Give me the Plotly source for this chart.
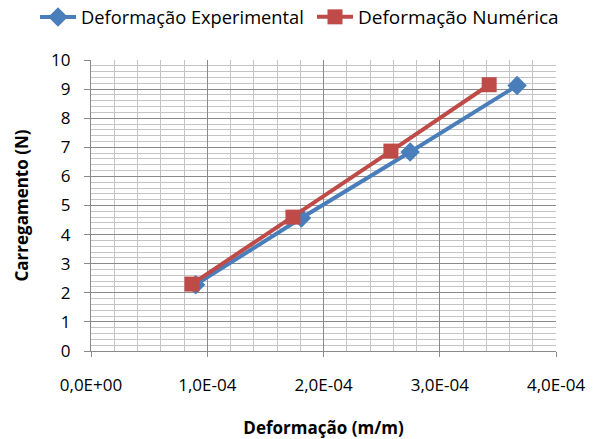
import plotly.graph_objects as go

# Data
x_experimental = [0.90e-4, 1.81e-4, 2.745e-4, 3.665e-4]
y_experimental = [2.28, 4.57, 6.84, 9.12]
x_numerica = [0.868e-4, 1.737e-4, 2.58e-4, 3.425e-4]
y_numerica = [2.30, 4.60, 6.87, 9.15]

series_names = ["Deformação Experimental", "Deformação Numérica"]
x_tick_values = [0, 1e-4, 2e-4, 3e-4, 4e-4]
x_tick_labels = ["0,0E+00", "1,0E-04", "2,0E-04", "3,0E-04", "4,0E-04"]
y_tick_values = list(range(0, 11))

FONT = "Open Sans"
MAJOR = "#8a8a8a"
MINOR = "#c4c4c4"

fig = go.Figure()
fig.add_trace(go.Scatter(
    x=x_experimental, y=y_experimental, name=series_names[0],
    mode="lines+markers", legend="legend",
    line=dict(color="#4a7ebb", width=4),
    marker=dict(symbol="diamond", size=15, color="#4a7ebb"),
))
fig.add_trace(go.Scatter(
    x=x_numerica, y=y_numerica, name=series_names[1],
    mode="lines+markers", legend="legend2",
    line=dict(color="#be4b48", width=4),
    marker=dict(symbol="square", size=15, color="#be4b48"),
))

legend_common = dict(orientation="h", xref="container", yref="container",
                     xanchor="left", yanchor="middle", y=1 - 17 / 439,
                     itemwidth=36, bgcolor="rgba(0,0,0,0)")

fig.update_layout(
    width=596, height=439,
    margin=dict(l=91, r=40, t=60, b=88, autoexpand=False),
    paper_bgcolor="white", plot_bgcolor="white",
    font=dict(family=FONT, size=17, color="#000000"),
    showlegend=True,
    legend=dict(legend_common, x=35 / 596, font=dict(size=18.3, family=FONT)),
    legend2=dict(legend_common, x=312 / 596, font=dict(size=19, family=FONT)),
)

fig.update_xaxes(
    range=[0, 4e-4], tickvals=x_tick_values, ticktext=x_tick_labels,
    showgrid=True, gridcolor=MAJOR, gridwidth=1.3,
    minor=dict(dtick=2e-5, showgrid=True, gridcolor=MINOR, gridwidth=1.3, ticklen=0),
    showline=True, linecolor=MAJOR, linewidth=1.3,
    ticks="outside", ticklen=5, tickcolor=MAJOR, tickwidth=1.3,
    ticklabelstandoff=13, zeroline=False, automargin=False,
    title=dict(text="<b>Deformação (m/m)</b>", font=dict(size=17, family=FONT), standoff=27),
)
fig.update_yaxes(
    range=[0, 10], tickvals=y_tick_values,
    showgrid=True, gridcolor=MAJOR, gridwidth=1.3,
    minor=dict(dtick=0.2, showgrid=True, gridcolor=MINOR, gridwidth=1.3, ticklen=0),
    showline=True, linecolor=MAJOR, linewidth=1.3,
    ticks="outside", ticklen=6, tickcolor=MAJOR, tickwidth=1.3,
    ticklabelstandoff=10, zeroline=False, automargin=False,
    title=dict(text="<b>Carregamento (N)</b>", font=dict(size=17, family=FONT), standoff=18),
)

# remove the default 8px page margin so the figure fills the window exactly
fig.write_html("out.html", config={"displayModeBar": False},
               post_script="document.body.style.margin='0';document.body.style.overflow='hidden';")
